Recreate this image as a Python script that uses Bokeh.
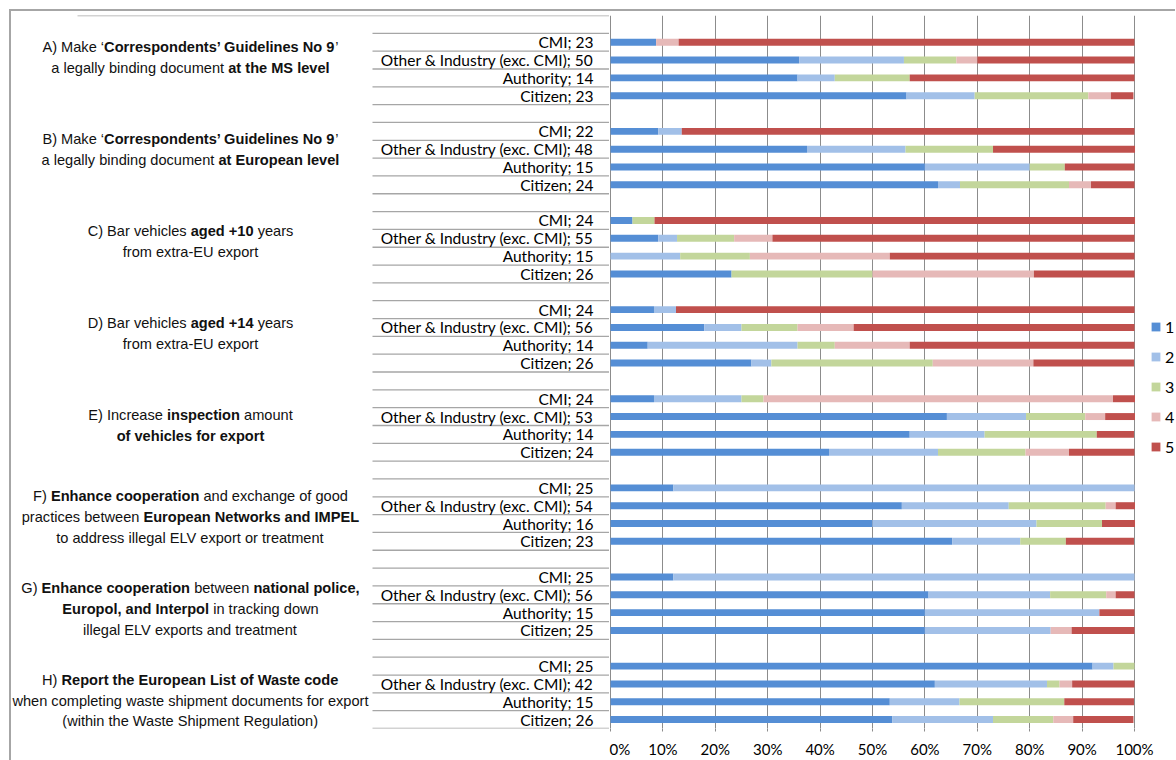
from bokeh.plotting import figure
from bokeh.models import (ColumnDataSource, Range1d, FixedTicker, PrintfTickFormatter,
                          Legend, LegendItem, Div)
from bokeh.layouts import row, column
from bokeh.core.properties import value
from bokeh.embed import file_html
from bokeh.resources import INLINE

# ---------------- data ----------------
group_ids = ["A", "B", "C", "D", "E", "F", "G", "H"]
respondents = ["CMI", "Other & Industry (exc. CMI)", "Authority", "Citizen"]
sample_sizes = [
    [23, 50, 14, 23],
    [22, 48, 15, 24],
    [24, 55, 15, 26],
    [24, 56, 14, 26],
    [24, 53, 14, 24],
    [25, 54, 16, 23],
    [25, 56, 15, 25],
    [25, 42, 15, 26],
]
levels = ["1", "2", "3", "4", "5"]
colors = ["#558ed5", "#a2c0e8", "#c3d69b", "#e6b9b8", "#c0504d"]

# percentages, rows ordered group by group: CMI, Other & Industry, Authority, Citizen
score_1 = [8.7, 36.0, 35.7, 56.5, 9.1, 37.5, 60.0, 62.5, 4.2, 9.1, 0.0, 23.1,
           8.3, 17.9, 7.1, 26.9, 8.3, 64.2, 57.1, 41.7, 12.0, 55.6, 50.0, 65.2,
           12.0, 60.7, 60.0, 60.0, 92.0, 61.9, 53.3, 53.8]
score_2 = [0.0, 20.0, 7.1, 13.0, 4.5, 18.8, 20.0, 4.2, 0.0, 3.6, 13.3, 0.0,
           4.2, 7.1, 28.6, 3.8, 16.7, 15.1, 14.3, 20.8, 88.0, 20.4, 31.3, 13.0,
           88.0, 23.2, 33.3, 24.0, 4.0, 21.4, 13.3, 19.2]
score_3 = [0.0, 10.0, 14.3, 21.7, 0.0, 16.7, 6.7, 20.8, 4.2, 10.9, 13.3, 26.9,
           0.0, 10.7, 7.1, 30.8, 4.2, 11.3, 21.4, 16.7, 0.0, 18.5, 12.5, 8.7,
           0.0, 10.7, 0.0, 0.0, 4.0, 2.4, 20.0, 11.5]
score_4 = [4.3, 4.0, 0.0, 4.3, 0.0, 0.0, 0.0, 4.2, 0.0, 7.3, 26.7, 30.8,
           0.0, 10.7, 14.3, 19.2, 66.7, 3.8, 0.0, 8.3, 0.0, 1.9, 0.0, 0.0,
           0.0, 1.8, 0.0, 4.0, 0.0, 2.4, 0.0, 3.8]
score_5 = [87.0, 30.0, 42.9, 4.3, 86.4, 27.1, 13.3, 8.3, 91.7, 69.1, 46.7, 19.2,
           87.5, 53.6, 42.9, 19.2, 4.2, 5.7, 7.1, 12.5, 0.0, 3.7, 6.3, 13.0,
           0.0, 3.6, 6.7, 12.0, 0.0, 11.9, 13.3, 11.5]

x_ticks = [0, 10, 20, 30, 40, 50, 60, 70, 80, 90, 100]

# group titles: lines of (text, bold) segments
group_titles = [
    [[("A) Make ‘", False), ("Correspondents’ Guidelines No 9", True), ("’", False)],
     [("a legally binding document ", False), ("at the MS level", True)]],
    [[("B) Make ‘", False), ("Correspondents’ Guidelines No 9", True), ("’", False)],
     [("a legally binding document ", False), ("at European level", True)]],
    [[("C) Bar vehicles ", False), ("aged +10", True), (" years", False)],
     [("from extra-EU export", False)]],
    [[("D) Bar vehicles ", False), ("aged +14", True), (" years", False)],
     [("from extra-EU export", False)]],
    [[("E) Increase ", False), ("inspection", True), (" amount", False)],
     [("of vehicles for export", True)]],
    [[("F) ", False), ("Enhance cooperation", True), (" and exchange of good", False)],
     [("practices between ", False), ("European Networks and IMPEL", True)],
     [("to address illegal ELV export or treatment", False)]],
    [[("G) ", False), ("Enhance cooperation", True), (" between ", False), ("national police,", True)],
     [("Europol, and Interpol", True), (" in tracking down", False)],
     [("illegal ELV exports and treatment", False)]],
    [[("H) ", False), ("Report the European List of Waste code", True)],
     [("when completing waste shipment documents for export", False)],
     [("(within the Waste Shipment Regulation)", False)]],
]

# ---------------- Arial / Liberation Sans advance widths (1/1000 em) ----------------
REG = dict(zip("ABCDEFGHIJKLMNOPQRSTUVWXYZ",
               [667, 667, 722, 722, 667, 611, 778, 722, 278, 500, 667, 556, 833, 722, 778, 667,
                778, 722, 667, 611, 722, 667, 944, 667, 667, 611]))
REG.update(zip("abcdefghijklmnopqrstuvwxyz",
               [556, 556, 500, 556, 556, 278, 556, 556, 222, 222, 500, 222, 833, 556, 556, 556,
                556, 333, 500, 278, 556, 500, 722, 500, 500, 500]))
REG.update({c: 556 for c in "0123456789"})
REG.update({" ": 278, "(": 333, ")": 333, "+": 584, ",": 278, "-": 333, ".": 278, "‘": 222, "’": 222})
BOLD = dict(zip("ABCDEFGHIJKLMNOPQRSTUVWXYZ",
                [722, 722, 722, 722, 667, 611, 778, 722, 278, 556, 722, 611, 833, 722, 778, 667,
                 778, 722, 667, 611, 722, 667, 944, 667, 667, 611]))
BOLD.update(zip("abcdefghijklmnopqrstuvwxyz",
                [556, 611, 556, 611, 556, 333, 611, 611, 278, 278, 556, 278, 889, 611, 611, 611,
                 611, 389, 556, 333, 611, 556, 778, 556, 556, 500]))
BOLD.update({c: 556 for c in "0123456789"})
BOLD.update({" ": 278, "(": 333, ")": 333, "+": 584, ",": 278, "-": 333, ".": 278, "‘": 278, "’": 278})


def text_width(s, bold, size):
    table = BOLD if bold else REG
    return sum(table.get(c, 556) for c in s) * size / 1000.0


# ---------------- layout constants (page pixels) ----------------
ORIGIN = 9            # outer frame line position
LINE_T = 2            # frame line thickness
N_ROWS = 40
FRAME_TOP = 4         # frame top at page y = 15
FRAME_H = 716         # frame bottom at page y = 731
FIG_H = 760 - ORIGIN - LINE_T
ROW_PX = FRAME_H / N_ROWS
LEFT_W = 598          # left panel page x 11 .. 609
BAR_W = 566           # bar panel page x 609 .. 1175 (frame covers legend area too)
SCALE_W = 524         # pixels from 0% to 100%
OFF_X = ORIGIN + LINE_T
BAR_X0 = OFF_X + LEFT_W
TITLE_SIZE = 14.6
GRAY = "#a6a6a6"

row_y = []
row_labels = []
for g in range(len(group_ids)):
    for j, resp in enumerate(respondents):
        row_y.append(g * 5 + 1 + j)
        row_labels.append(f"{resp}; {sample_sizes[g][j]}")

yr = Range1d(N_ROWS - 0.5, -0.5)

# ---------------- left label panel ----------------
left = figure(width=LEFT_W, height=FIG_H, x_range=Range1d(0, LEFT_W), y_range=yr,
              min_border_left=0, min_border_right=0, min_border_top=FRAME_TOP,
              min_border_bottom=FIG_H - FRAME_TOP - FRAME_H,
              x_axis_location=None, y_axis_location=None, toolbar_location=None,
              output_backend="svg", outline_line_color=None)
left.grid.visible = False

bounds = [k - 0.5 for k in range(N_ROWS + 1)]
seg_x0 = [77 - OFF_X if b == -0.5 else 372 - OFF_X for b in bounds]
left.segment(x0=seg_x0, y0=bounds, x1=[LEFT_W] * len(bounds), y1=bounds,
             line_color=GRAY, line_width=1.3)

left.text(x=[593 - OFF_X] * len(row_y), y=row_y, text=row_labels, text_align="right",
          text_baseline="middle", text_font=value("Lato"), text_font_size="15.5px",
          text_color="#000000")

reg = dict(x=[], y=[], text=[])
bld = dict(x=[], y=[], text=[])
CENTER_X = 190 - OFF_X
LINE_GAP = 21 / ROW_PX
for g, lines in enumerate(group_titles):
    yc = (57.5 - 15) / ROW_PX - 0.5 + g * 92.2 / ROW_PX
    n = len(lines)
    for i, segs in enumerate(lines):
        yl = yc + (i - (n - 1) / 2) * LINE_GAP
        total = sum(text_width(t, b, TITLE_SIZE) for t, b in segs)
        x = CENTER_X - total / 2
        for t, b in segs:
            lead = t[:len(t) - len(t.lstrip())]
            d = bld if b else reg
            d["x"].append(x + text_width(lead, b, TITLE_SIZE))
            d["y"].append(yl)
            d["text"].append(t.strip())
            x += text_width(t, b, TITLE_SIZE)

for d, style in ((reg, "normal"), (bld, "bold")):
    left.text(x="x", y="y", text="text", source=ColumnDataSource(d), text_align="left",
              text_baseline="middle", text_font=value("Liberation Sans"),
              text_font_size=f"{TITLE_SIZE}px", text_font_style=style, text_color="#111111")

# ---------------- bar panel ----------------
per_px = 100.0 / SCALE_W
x_start = -(610 - BAR_X0) * per_px
x_end = x_start + BAR_W * per_px
bars = figure(width=BAR_W, height=FIG_H, x_range=Range1d(x_start, x_end), y_range=yr,
              min_border_left=0, min_border_right=0, min_border_top=FRAME_TOP,
              min_border_bottom=FIG_H - FRAME_TOP - FRAME_H,
              y_axis_location=None, toolbar_location=None, output_backend="svg",
              outline_line_color=None)

source = ColumnDataSource(dict(y=row_y, s1=score_1, s2=score_2, s3=score_3,
                               s4=score_4, s5=score_5))
renderers = bars.hbar_stack(["s1", "s2", "s3", "s4", "s5"], y="y", height=0.39,
                            color=colors, line_color=None, source=source)

bars.ygrid.visible = False
bars.xgrid.ticker = FixedTicker(ticks=x_ticks)
bars.xgrid.grid_line_color = "#8c8c8c"
bars.xgrid.grid_line_width = 1
bars.xaxis.ticker = FixedTicker(ticks=x_ticks)
bars.xaxis.formatter = PrintfTickFormatter(format="%d%%")
bars.xaxis.axis_line_color = None
bars.xaxis.major_tick_line_color = "#8c8c8c"
bars.xaxis.major_tick_out = 3
bars.xaxis.major_tick_in = 0
bars.xaxis.minor_tick_line_color = None
bars.xaxis.major_label_standoff = 8
bars.xaxis.major_label_text_font = "Lato"
bars.xaxis.major_label_text_font_size = "15px"
bars.xaxis.major_label_text_color = "#000000"

legend = Legend(items=[LegendItem(label=lv, renderers=[r]) for lv, r in zip(levels, renderers)],
                location=(1150 - BAR_X0, 731 - 459), glyph_width=11, glyph_height=11,
                label_height=11, spacing=11, padding=0, margin=0, border_line_color=None,
                background_fill_alpha=0, label_standoff=4,
                label_text_font="Lato", label_text_font_size="16px",
                label_text_color="#000000")
bars.add_layout(legend)

top_line = Div(text="", width=LEFT_W + BAR_W + LINE_T, height=LINE_T, margin=0,
               styles={"background-color": GRAY})
left_line = Div(text="", width=LINE_T, height=FIG_H, margin=0,
                styles={"background-color": GRAY})

layout = column(top_line, row(left_line, left, bars, spacing=0), spacing=0,
                margin=(ORIGIN, 0, 0, ORIGIN))

open("out.html", "w").write(file_html(layout, INLINE))
